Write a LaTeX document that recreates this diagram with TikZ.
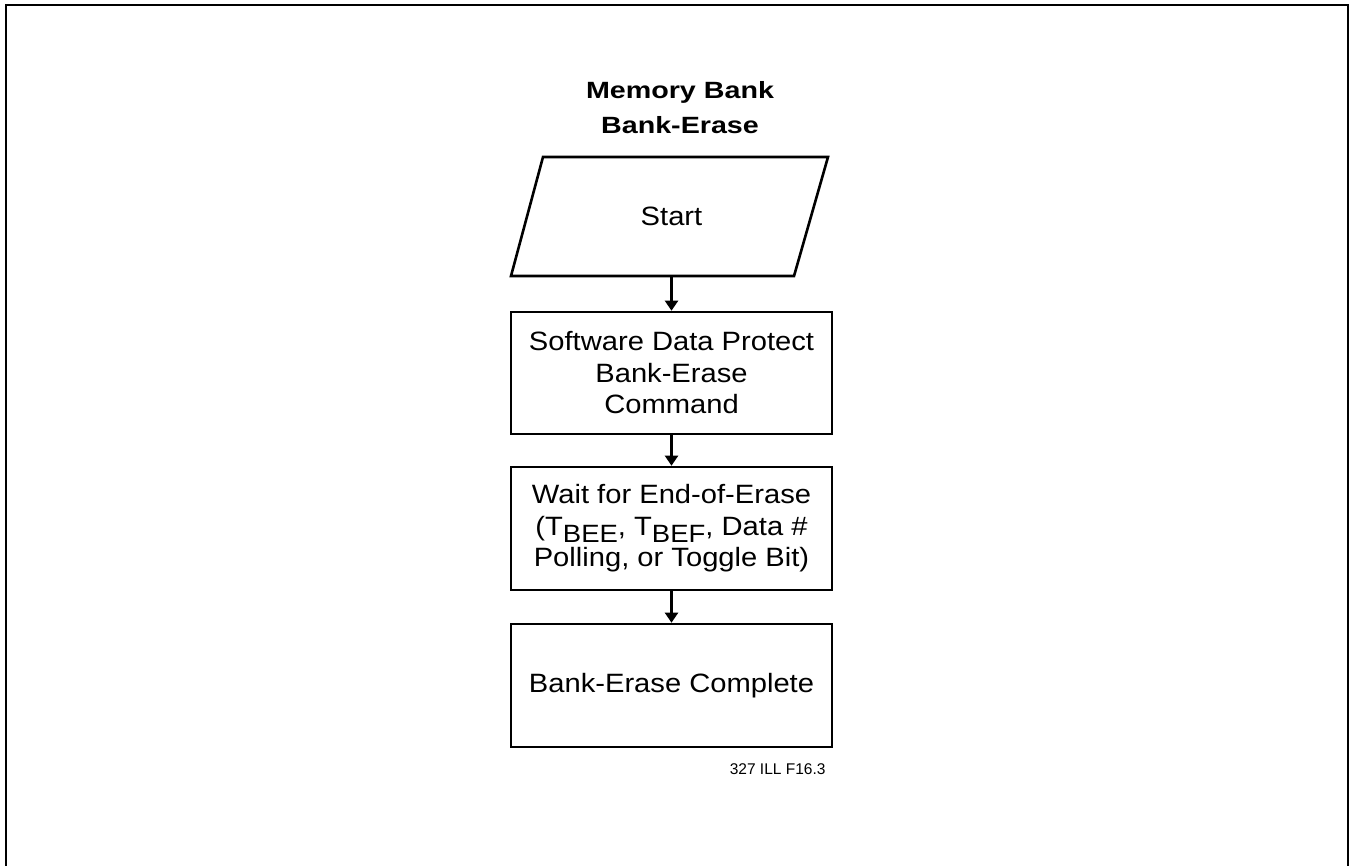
\documentclass[tikz,border=0pt]{standalone}
\usepackage{fontspec}
\setmainfont{Liberation Sans}
\newfontfamily\bodyfont[FakeStretch=1.1]{Liberation Sans}
\newfontfamily\titlefont[FakeStretch=1.22]{Liberation Sans}
\newfontfamily\tagfont{Liberation Sans}
\usetikzlibrary{arrows.meta}
\newcommand{\sbx}[1]{\raisebox{-0.28em}{\fontsize{25}{25}\selectfont #1}}
\begin{document}
\begin{tikzpicture}[x=1pt,y=-1pt,
  frame/.style={line width=2.8pt},
  box/.style={draw,line width=2.6pt,minimum width=321pt,minimum height=122pt,inner sep=0pt,
    align=center,font=\bodyfont\fontsize{26.5}{31.5}\selectfont},
  arr/.style={line width=2.2pt,-{Triangle[length=10pt,width=13pt]}},
  title/.style={align=center,font=\titlefont\bfseries\fontsize{23.5}{35}\selectfont},
  tag/.style={font=\tagfont\fontsize{15.5}{18}\selectfont,anchor=base east}]
\useasboundingbox (0,0) rectangle (1349,866);
\draw[frame] (6,866) -- (6,5) -- (1348,5) -- (1348,866);
% title
\node[title,anchor=base] (t1) at (680,99) {Memory Bank};
\node[title,anchor=base] (t2) at (680,134) {Bank-Erase};
% start parallelogram
\coordinate (p1) at (543,157);
\coordinate (p2) at (828,157);
\coordinate (p3) at (794,276);
\coordinate (p4) at (511,276);
\draw[line width=2.6pt,line join=miter] (p1) -- (p2) -- (p3) -- (p4) -- cycle;
\node[draw=none,minimum width=250pt,minimum height=119pt,inner sep=0pt,
  font=\bodyfont\fontsize{26.5}{31.5}\selectfont] (start) at (671.5,216.5) {Start};
% boxes
\node[box] (b1) at (671.5,373) {Software Data Protect\\Bank-Erase\\Command};
\node[box,minimum height=123pt] (b2) at (671.5,528.5) {Wait for End-of-Erase\\(T\sbx{BEE}, T\sbx{BEF}, Data \#\\Polling, or Toggle Bit)};
\node[box,minimum height=123pt] (b3) at (671.5,685.5) {Bank-Erase Complete};
% connectors
\draw[arr] (start.south) -- (b1.north);
\draw[arr] (b1.south) -- (b2.north);
\draw[arr] (b2.south) -- (b3.north);
% tag
\node[tag] (tg) at (829,774) {327 ILL F16.3};
\end{tikzpicture}
\end{document}
